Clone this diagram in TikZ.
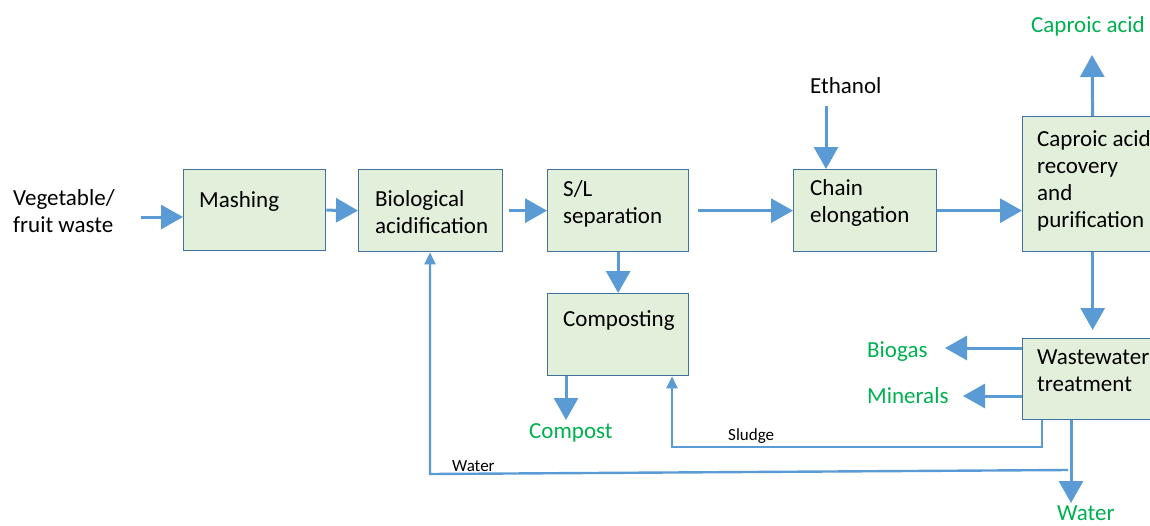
\documentclass[tikz,border=0pt]{standalone}
\usepackage{fontspec}
\setmainfont{Carlito}
\usetikzlibrary{arrows.meta}
\definecolor{boxfill}{HTML}{E2EFDA}
\definecolor{boxline}{HTML}{41719C}
\definecolor{arrowc}{HTML}{5B9BD5}
\definecolor{outg}{HTML}{00B050}
\begin{document}
\begin{tikzpicture}[x=1pt,y=-1pt,
  box/.style={draw=boxline, line width=1.3pt, fill=boxfill, rectangle, inner sep=0pt, anchor=north west},
  txt/.style={anchor=north west, inner sep=0pt, align=left, font=\fontsize{23}{27}\selectfont},
  otxt/.style={anchor=base west, inner sep=0pt, font=\fontsize{23}{27}\selectfont},
  stxt/.style={anchor=base west, inner sep=0pt, font=\fontsize{17}{20}\selectfont},
  arr/.style={draw=arrowc, line width=3pt, -{Triangle[length=22pt,width=24pt]}},
  sarr/.style={draw=arrowc, line width=2.4pt, -{Triangle[length=12pt,width=11pt]}}]
\useasboundingbox (0,0) rectangle (1150,525);
% boxes
\node[box, minimum width=142pt, minimum height=81pt] (mash) at (183,169) {};
\node[box, minimum width=144pt, minimum height=82pt] (bio) at (358,169) {};
\node[box, minimum width=141pt, minimum height=82pt] (sl) at (547,169) {};
\node[box, minimum width=141pt, minimum height=82pt] (comp) at (547,293) {};
\node[box, minimum width=143pt, minimum height=82pt] (chain) at (793,169) {};
\node[box, minimum width=140pt, minimum height=135pt] (capr) at (1022,116) {};
\node[box, minimum width=140pt, minimum height=81pt] (ww) at (1022,338) {};
% box texts
\node[txt] (mashT) at (199,188) {\strut Mashing};
\node[txt] (bioT) at (375,187) {\strut Biological\\acidification};
\node[txt] (slT) at (563,177) {\strut S/L\\separation};
\node[txt] (compT) at (563,307) {\strut Composting};
\node[txt] (chainT) at (810,176) {\strut Chain\\elongation};
\node[txt] (caprT) at (1037,127) {\strut Caproic acid\\recovery\\and\\purification};
\node[txt] (wwT) at (1037,345) {\strut Wastewater\\treatment};
% free texts
\node[txt] (veg) at (13,186) {\strut Vegetable/\\fruit waste};
\node[otxt] (eth) at (810,93) {Ethanol};
\node[otxt, text=outg] (caout) at (1031,32) {Caproic acid};
\node[otxt, text=outg] (compost) at (529,438) {Compost};
\node[otxt, text=outg] (biogas) at (867,357) {Biogas};
\node[otxt, text=outg] (minerals) at (867,403) {Minerals};
\node[otxt, text=outg] (waterout) at (1057,520) {Water};
\node[stxt] (sludgeL) at (728,440) {Sludge};
\node[stxt] (waterL) at (452,471) {Water};
% coordinates
\coordinate (vegin) at (141,217);
\coordinate (ethin) at (826,106);
\coordinate (caup) at (1092,55);
\coordinate (compin) at (566,420);
\coordinate (biogasin) at (945,348);
\coordinate (minin) at (963,396);
\coordinate (s1) at (1042,447);
\coordinate (s2) at (672,447);
\coordinate (wout) at (1071,503);
\coordinate (w1) at (1068,470);
\coordinate (w2) at (430,474);
% connectors
\draw[arr] (vegin) -- (mash.west |- vegin);
\draw[arr] (mash.east) -- (bio.west);
\draw[arr] ([xshift=6pt]bio.east) -- (sl.west);
\draw[arr] ([xshift=9pt]sl.east) -- (chain.west);
\draw[arr] (chain.east) -- (chain.east -| capr.west);
\draw[arr] (ethin) -- (ethin |- chain.north);
\draw[arr] (capr.north) -- (caup);
\draw[arr] (capr.south) -- ([yshift=8pt]ww.north);
\draw[arr] (sl.south) -- (comp.north);
\draw[arr] (comp.south -| compin) -- (compin);
\draw[arr] (ww.west |- biogasin) -- (biogasin);
\draw[arr] (ww.west |- minin) -- (minin);
\draw[arr] (ww.south -| wout) -- (wout);
\draw[sarr] (ww.south -| s1) -- (s1) -- (s2) -- (s2 |- comp.south);
\draw[sarr] (w1) -- (w2) -- (w2 |- bio.south);
\end{tikzpicture}
\end{document}
